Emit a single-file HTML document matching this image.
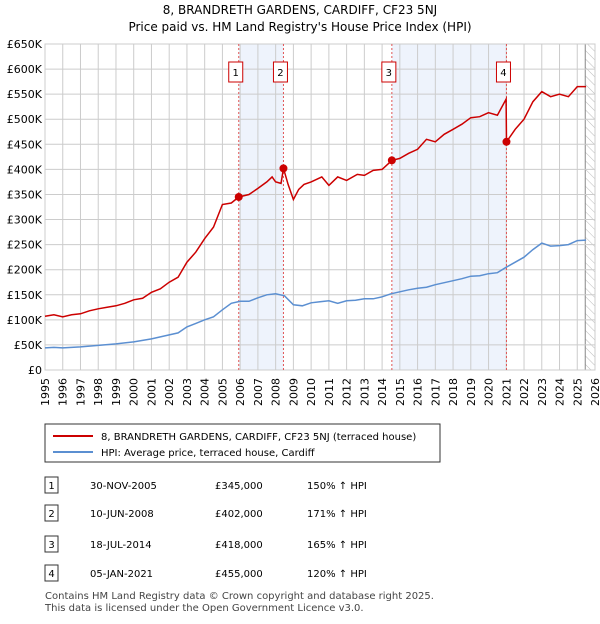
<!DOCTYPE html>
<html><head><meta charset="utf-8"><style>
body{margin:0;background:#fff;font-family:"DejaVu Sans","Liberation Sans",sans-serif;}
svg text{font-family:"DejaVu Sans","Liberation Sans",sans-serif;}
</style></head><body>
<svg id="c" width="600" height="620" xmlns="http://www.w3.org/2000/svg">
<defs><pattern id="hatch" width="6" height="6" patternUnits="userSpaceOnUse" patternTransform="rotate(-45)"><line x1="0" y1="0" x2="0" y2="6" stroke="#bbb" stroke-width="1"/></pattern></defs>
<text x="300" y="14" text-anchor="middle" font-size="12">8, BRANDRETH GARDENS, CARDIFF, CF23 5NJ</text>
<text x="300" y="31" text-anchor="middle" font-size="12">Price paid vs. HM Land Registry's House Price Index (HPI)</text>
<g id="plot"></g>
<g>
<rect x="45" y="424" width="395" height="38" fill="#fff" stroke="#333"/>
<line x1="53" y1="436" x2="93" y2="436" stroke="#cc0000" stroke-width="2"/>
<text x="101" y="440" font-size="10">8, BRANDRETH GARDENS, CARDIFF, CF23 5NJ (terraced house)</text>
<line x1="53" y1="452" x2="93" y2="452" stroke="#5b8fd1" stroke-width="2"/>
<text x="101" y="456" font-size="10">HPI: Average price, terraced house, Cardiff</text>
</g>
<g id="table" font-size="10"></g>
<text x="45" y="599" font-size="10" fill="#444">Contains HM Land Registry data © Crown copyright and database right 2025.</text>
<text x="45" y="611" font-size="10" fill="#444">This data is licensed under the Open Government Licence v3.0.</text>
</svg>
<script>
const hpiYears=[1995,1995.5,1996,1997,1998,1999,2000,2001,2002,2002.5,2003,2003.5,2004,2004.5,2005,2005.5,2006,2006.5,2007,2007.5,2008,2008.5,2009,2009.5,2010,2010.5,2011,2011.5,2012,2012.5,2013,2013.5,2014,2014.5,2015,2015.5,2016,2016.5,2017,2017.5,2018,2018.5,2019,2019.5,2020,2020.5,2021,2021.5,2022,2022.5,2023,2023.5,2024,2024.5,2025,2025.5];
const hpiValues=[44,45,44,46,49,52,56,62,70,74,86,93,100,106,120,133,137,137,144,150,152,148,130,128,134,136,138,133,138,139,142,142,146,152,156,160,163,165,170,174,178,182,187,188,192,194,205,215,225,240,253,247,248,250,258,259];
const priceYears=[1995,1995.5,1996,1996.5,1997,1997.5,1998,1998.5,1999,1999.5,2000,2000.5,2001,2001.5,2002,2002.5,2003,2003.5,2004,2004.5,2005,2005.5,2005.92,2006.5,2007,2007.5,2007.8,2008,2008.3,2008.44,2008.7,2009,2009.3,2009.6,2010,2010.6,2011,2011.5,2012,2012.6,2013,2013.5,2014,2014.55,2015,2015.5,2016,2016.5,2017,2017.5,2018,2018.5,2019,2019.5,2020,2020.5,2020.99,2021.01,2021.5,2022,2022.5,2023,2023.5,2024,2024.5,2025,2025.5];
const priceValues=[107,110,106,110,112,118,122,125,128,133,140,143,155,162,175,185,215,235,262,285,330,333,345,350,362,375,385,375,372,402,370,340,360,370,375,385,368,385,378,390,388,398,400,418,422,432,440,460,455,470,480,490,503,505,513,508,540,455,480,500,535,555,545,550,545,565,565];
const saleLabels=["1","2","3","4"];
const saleYears=[2005.92,2008.44,2014.55,2021.01];
const salePrices=[345,402,418,455];
const saleDates=["30-NOV-2005","10-JUN-2008","18-JUL-2014","05-JAN-2021"];
const salePriceText=["£345,000","£402,000","£418,000","£455,000"];
const saleHpiText=["150% ↑ HPI","171% ↑ HPI","165% ↑ HPI","120% ↑ HPI"];
const yTicks=[0,50,100,150,200,250,300,350,400,450,500,550,600,650];
const yTickLabels=["£0","£50K","£100K","£150K","£200K","£250K","£300K","£350K","£400K","£450K","£500K","£550K","£600K","£650K"];
const xTicks=[1995,1996,1997,1998,1999,2000,2001,2002,2003,2004,2005,2006,2007,2008,2009,2010,2011,2012,2013,2014,2015,2016,2017,2018,2019,2020,2021,2022,2023,2024,2025,2026];

const L=45,R=595,T=44,B=370;
const x=y=>L+(y-1995)/(2026-1995)*(R-L);
const yv=v=>B-v/650*(B-T);
const NS="http://www.w3.org/2000/svg";
const plot=document.getElementById('plot');
function mk(tag,attrs,parent){const e=document.createElementNS(NS,tag);for(const k in attrs)e.setAttribute(k,attrs[k]);(parent||plot).appendChild(e);return e;}

for(let i=0;i<saleYears.length;i+=2){
 const r=mk('rect',{x:x(saleYears[i]),y:T,width:x(saleYears[i+1])-x(saleYears[i]),height:B-T,fill:'#eef3fc'});
 
 
}
const h=mk('rect',{x:x(2025.45),y:T,width:R-x(2025.45),height:B-T,fill:'url(#hatch)'});


mk('line',{x1:x(2025.45),y1:T,x2:x(2025.45),y2:B,stroke:'#888'});
yTicks.forEach((v,i)=>{
 mk('line',{x1:L,y1:yv(v),x2:R,y2:yv(v),stroke:'#ccc'});
 const t=mk('text',{x:L-3,y:yv(v)+4,'text-anchor':'end','font-size':11});t.textContent=yTickLabels[i];
 
 
});
xTicks.forEach(yr=>{
 mk('line',{x1:x(yr),y1:T,x2:x(yr),y2:B,stroke:'#ccc'});
 const t=mk('text',{x:0,y:0,'font-size':11,transform:`translate(${x(yr)+4},${B+36}) rotate(-90)`});t.textContent=yr;
 
 
});
mk('rect',{x:L,y:T,width:R-L,height:B-T,fill:'none',stroke:'#ccc'});
saleYears.forEach((s,i)=>{
 mk('line',{x1:x(s),y1:T,x2:x(s),y2:B,stroke:'#e05555','stroke-dasharray':'2,2'});
 const g=mk('g',{});
 
 
 mk('rect',{x:x(s)-10,y:62,width:14,height:20,fill:'#fff',stroke:'#cc0000'},g);
 const t=mk('text',{x:x(s)-3,y:76,'text-anchor':'middle','font-size':10},g);t.textContent=saleLabels[i];
});
const hp=mk('path',{d:hpiYears.map((yr,i)=>(i?'L':'M')+x(yr).toFixed(1)+','+yv(hpiValues[i]).toFixed(1)).join(''),fill:'none',stroke:'#5b8fd1','stroke-width':1.5});


const pp=mk('path',{d:priceYears.map((yr,i)=>(i?'L':'M')+x(yr).toFixed(1)+','+yv(priceValues[i]).toFixed(1)).join(''),fill:'none',stroke:'#cc0000','stroke-width':1.5});


saleYears.forEach((s,i)=>{
 const c=mk('circle',{cx:x(s),cy:yv(salePrices[i]),r:4,fill:'#cc0000'});
 
 
});
const tb=document.getElementById('table');
const rowsY=[486,514,545,574];
saleLabels.forEach((lab,i)=>{
 const y=rowsY[i];
 const g=mk('g',{},tb);
 
 
 mk('rect',{x:45,y:y-9,width:13,height:16,fill:'#fff',stroke:'#333'},g);
 let t=mk('text',{x:51.5,y:y+3,'text-anchor':'middle'},g);t.textContent=lab;
 t=mk('text',{x:90,y:y+3},g);t.textContent=saleDates[i];
 t=mk('text',{x:215,y:y+3},g);t.textContent=salePriceText[i];
 t=mk('text',{x:307,y:y+3},g);t.textContent=saleHpiText[i];
});
</script>
</body></html>
